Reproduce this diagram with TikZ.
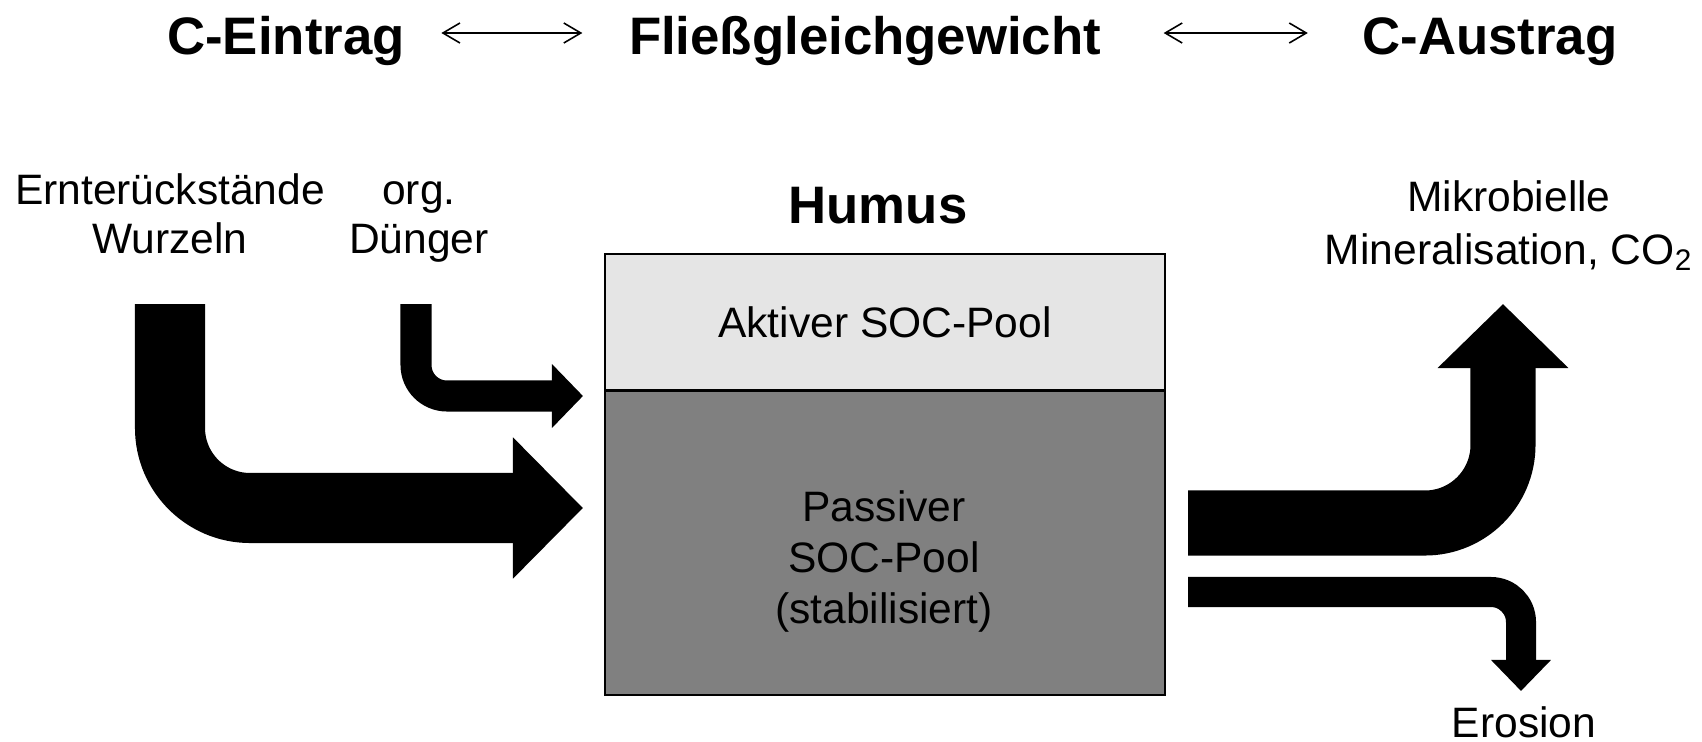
\documentclass[tikz,border=0pt]{standalone}
\usepackage{fontspec}
\setmainfont{Liberation Sans}
\usepackage{tikz}
\usetikzlibrary{arrows.meta}
\usetikzlibrary{positioning}
\usetikzlibrary{calc}
\definecolor{hellgrau}{gray}{0.9}
\definecolor{dunkelgrau}{gray}{0.5}

\begin{document}
\begin{tikzpicture}[x=0.01cm,y=-0.01cm,
		titel/.style={font=\bfseries\fontsize{15}{18}\selectfont,inner sep=0pt},
		txt/.style={font=\fontsize{12.1}{13.7}\selectfont,inner sep=0pt,align=center},
		pool/.style={draw,line width=0.45pt,minimum width=5.6cm,inner sep=0pt},
		pfeil/.style={line width=0.45pt,{Straight Barb[length=0.17cm,width=0.2cm]}-{Straight Barb[length=0.17cm,width=0.2cm]}},
		fluss/.style={line width=#1,line cap=butt}]
	\useasboundingbox (0,0) rectangle (1702,742);
	\node[titel,anchor=base] (ein) at (286,54) {C-Eintrag};
	\node[titel,anchor=base] (fg) at (865,54) {Fließgleichgewicht};
	\node[titel,anchor=base] (aus) at (1490,54) {C-Austrag};
	\draw[pfeil] ($(ein.base east)+(36,-21)$) -- ($(fg.base west)+(-46,-21)$);
	\draw[pfeil] ($(fg.base east)+(62,-21)$) -- ($(aus.base west)+(-54,-21)$);
	\node[txt,anchor=base] (ernte) at (170,253) {Ernterückstände\\Wurzeln};
	\node[txt,anchor=base] (dueng) at (419,253) {org.\\Dünger};
	\node[titel,anchor=base] (humus) at (878,223) {Humus};
	\node[pool,fill=hellgrau,minimum height=1.36cm,font=\fontsize{12.1}{13.7}\selectfont] (aktiv) at (885,322) {Aktiver SOC-Pool};
	\node[pool,fill=dunkelgrau,minimum height=3.03cm,below=0pt of aktiv] (passiv) {};
	\node[txt,anchor=base,font=\fontsize{12.1}{14.4}\selectfont] (passivtxt) at (884,623) {Passiver\\SOC-Pool\\(stabilisiert)};
	\node[txt,anchor=base,font=\fontsize{12.1}{14.8}\selectfont] (mikro) at (1509,264) {Mikrobielle\\Mineralisation, CO\textsubscript{2}};
	\node[txt,anchor=base] (eros) at (1524,737) {Erosion};
	\coordinate (q1) at (170,304);
	\coordinate (z1) at (583,508);
	\coordinate (q2) at (416,304);
	\coordinate (z2) at (583,396);
	\coordinate (q3) at (1188,523);
	\coordinate (z3) at (1503,304);
	\coordinate (q4) at (1188,592);
	\coordinate (z4) at (1521,691);
	\draw[fluss=0.7cm,-{Triangle[length=0.7cm,width=1.37cm]}] (q1) [rounded corners=0.8cm] |- (z1);
	\draw[fluss=0.31cm,-{Triangle[length=0.31cm,width=0.62cm]}] (q2) [rounded corners=0.31cm] |- (z2);
	\draw[fluss=0.65cm,-{Triangle[length=0.64cm,width=1.27cm]}] (q3) [rounded corners=0.78cm] -| (z3);
	\draw[fluss=0.3cm,-{Triangle[length=0.31cm,width=0.58cm]}] (q4) [rounded corners=0.3cm] -| (z4);
\end{tikzpicture}
\end{document}
